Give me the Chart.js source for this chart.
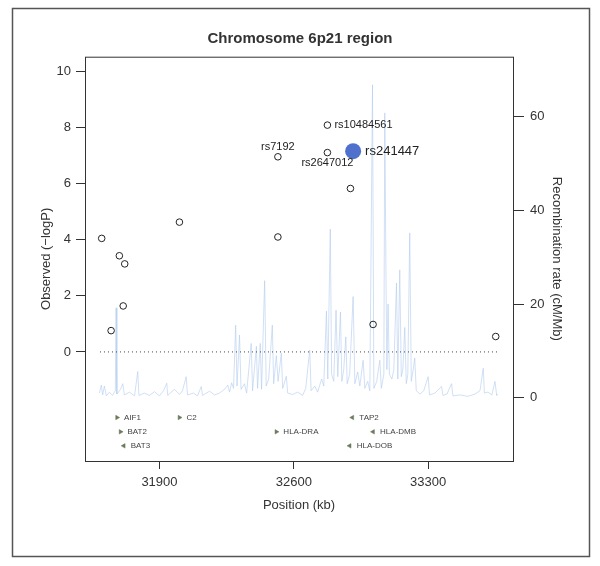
<!DOCTYPE html>
<html>
<head>
<meta charset="utf-8">
<script src="https://cdn.jsdelivr.net/npm/chart.js@4"></script>
<style>
  body { margin: 0; background: #fff; }
  #wrap { width: 600px; height: 566px; }
</style>
</head>
<body>
<div id="wrap"><canvas id="myChart" width="600" height="566"></canvas></div>
<script>
	// SNP 위치(kb) 와 -logP
	const snpPos  = [31599, 31648, 31691, 31711, 31719, 32004, 32517, 32517, 32775, 32775, 32895, 33013, 33652];
	const snpLogP = [4.05, 0.76, 3.43, 1.64, 3.14, 4.63, 6.96, 4.10, 8.09, 7.11, 5.83, 0.98, 0.55];
	const snpName = ['', '', '', '', '', '', 'rs7192', '', 'rs10484561', 'rs2647012', '', '', ''];

	// 대표 SNP
	const leadPos  = [32909];
	const leadLogP = [7.16];
	const leadName = ['rs241447'];

	// 재조합률 (cM/Mb)
	const recPos = [31587, 31597, 31604, 31613, 31623, 31639, 31655, 31670, 31674, 31678,
		31697, 31709, 31717, 31743, 31770, 31787, 31793, 31822, 31848, 31874,
		31900, 31921, 31938, 31943, 31978, 32004, 32020, 32039, 32046, 32077,
		32098, 32118, 32124, 32161, 32187, 32213, 32239, 32256, 32265, 32276,
		32286, 32297, 32304, 32317, 32325, 32343, 32354, 32378, 32385, 32405,
		32411, 32425, 32432, 32448, 32456, 32469, 32488, 32495, 32509, 32518,
		32535, 32542, 32561, 32568, 32594, 32620, 32646, 32662, 32683, 32690,
		32709, 32724, 32745, 32756, 32770, 32777, 32790, 32797, 32808, 32820,
		32829, 32843, 32850, 32860, 32871, 32878, 32891, 32909, 32918, 32933,
		32944, 32961, 32970, 32985, 32996, 33010, 33017, 33032, 33048, 33056,
		33069, 33074, 33080, 33085, 33091, 33098, 33111, 33121, 33135, 33142,
		33152, 33160, 33168, 33178, 33186, 33194, 33204, 33212, 33222, 33230,
		33238, 33257, 33277, 33300, 33307, 33335, 33370, 33377, 33398, 33422,
		33429, 33465, 33507, 33544, 33570, 33587, 33593, 33611, 33632, 33648,
		33656, 33658];
	const recRate = [1.0, 2.7, 0.6, 2.5, 0.4, 1.2, 0.5, 1.5, 19.2, 0.8,
		1.8, 3.0, 0.6, 1.2, 0.4, 5.6, 0.5, 1.0, 0.5, 1.3,
		0.4, 1.5, 3.1, 0.5, 1.8, 0.7, 1.5, 4.5, 0.6, 1.0,
		0.4, 2.4, 0.5, 1.4, 0.6, 1.0, 1.8, 2.7, 1.2, 3.2,
		2.0, 15.5, 2.5, 13.4, 1.8, 3.0, 1.0, 11.6, 1.5, 11.0,
		2.0, 11.6, 1.8, 25.0, 2.5, 4.0, 15.5, 3.0, 9.0, 3.5,
		9.5, 2.0, 4.6, 1.0, 0.7, 1.2, 0.5, 2.0, 10.2, 1.5,
		2.5, 1.2, 4.0, 2.5, 18.5, 4.0, 36.0, 5.0, 3.5, 18.7,
		4.5, 18.3, 3.5, 6.0, 13.0, 3.0, 5.0, 21.6, 3.0, 5.5,
		2.5, 8.0, 2.0, 3.5, 1.5, 66.8, 2.0, 3.5, 8.0, 2.0,
		5.0, 60.8, 27.0, 6.0, 20.0, 5.0, 4.0, 6.0, 24.5, 4.0,
		27.3, 4.5, 6.0, 15.0, 3.0, 5.0, 35.2, 3.5, 6.0, 8.5,
		1.5, 0.8, 1.5, 4.5, 0.6, 1.0, 2.4, 0.5, 0.8, 3.0,
		0.4, 0.6, 0.3, 0.8, 1.5, 6.3, 1.0, 1.2, 0.6, 3.5,
		0.8, 0.5];

	// 유전자 표시
	const geneName = ['AIF1', 'C2', 'TAP2', 'BAT2', 'HLA-DRA', 'HLA-DMB', 'BAT3', 'HLA-DOB'];
	const genePos  = [31679, 32004, 32905, 31697, 32509, 33013, 31714, 32891];
	const geneRow  = [-2.34, -2.34, -2.34, -2.85, -2.85, -2.85, -3.35, -3.35];
	const geneDir  = [1, 1, -1, 1, 1, -1, -1, -1];

	// 눈금
	const xTicks  = [31900, 32600, 33300];
	const yTicks  = [0, 2, 4, 6, 8, 10];
	const y2Ticks = [0, 20, 40, 60];
	const cutLine = [31590, 33660];

	const FONT = '"Liberation Sans", Arial, sans-serif';
	const INK = '#333';

	const snpData  = snpPos.map((p, i) => ({ x: p, y: snpLogP[i] }));
	const leadData = leadPos.map((p, i) => ({ x: p, y: leadLogP[i] }));
	const recData  = recPos.map((p, i) => ({ x: p, y: recRate[i] }));
	const geneData = genePos.map((p, i) => ({ x: p, y: geneRow[i] }));
	const cutData  = cutLine.map(p => ({ x: p, y: 0 }));

	const setTicks = (vals) => (scale) => { scale.ticks = vals.map(v => ({ value: v })); };
	const plain = (v) => String(v);

	// 라벨, 테두리 그리기
	const decoPlugin = {
		id: 'deco',
		afterDatasetsDraw(chart) {
			const { ctx, chartArea: a, scales: { x, y } } = chart;
			ctx.save();
			ctx.strokeStyle = '#333';
			ctx.lineWidth = 1;
			ctx.strokeRect(a.left + 0.5, a.top + 0.5, a.right - a.left, a.bottom - a.top);

			ctx.fillStyle = '#222';
			ctx.font = '11px ' + FONT;
			snpName.forEach((n, i) => {
				if (!n) return;
				const px = x.getPixelForValue(snpPos[i]);
				const py = y.getPixelForValue(snpLogP[i]);
				ctx.textBaseline = 'middle';
				if (n === 'rs7192') { ctx.textAlign = 'center'; ctx.fillText(n, px, py - 10); }
				else if (n === 'rs2647012') { ctx.textAlign = 'center'; ctx.fillText(n, px, py + 10); }
				else { ctx.textAlign = 'left'; ctx.fillText(n, px + 7, py); }
			});
			ctx.font = '13px ' + FONT;
			ctx.textAlign = 'left';
			leadName.forEach((n, i) => {
				ctx.fillText(n, x.getPixelForValue(leadPos[i]) + 12, y.getPixelForValue(leadLogP[i]));
			});

			ctx.font = '8px ' + FONT;
			ctx.fillStyle = '#444';
			geneName.forEach((n, i) => {
				ctx.fillText(n, x.getPixelForValue(genePos[i]) + 7, y.getPixelForValue(geneRow[i]));
			});
			ctx.restore();
		},
		afterDraw(chart) {
			const ctx = chart.ctx;
			ctx.save();
			ctx.strokeStyle = '#555';
			ctx.lineWidth = 1.5;
			ctx.strokeRect(12.5, 8.5, 577, 548);
			ctx.restore();
		}
	};

	const ctx = document.querySelector('#myChart');
	const chrChart = new Chart(ctx, {
		type: 'scatter',
		data: {
			datasets: [
				{
					label: 'lead',
					data: leadData,
					pointRadius: 8,
					pointBackgroundColor: '#4f70cc',
					pointBorderColor: '#4f70cc',
					borderWidth: 0
				},
				{
					label: 'SNP',
					data: snpData,
					pointRadius: 3.3,
					pointBackgroundColor: 'rgba(255,255,255,0)',
					pointBorderColor: '#222',
					pointBorderWidth: 1
				},
				{
					label: 'genes',
					data: geneData,
					pointStyle: 'triangle',
					pointRadius: 2.6,
					rotation: (c) => geneDir[c.dataIndex] > 0 ? 90 : -90,
					pointBackgroundColor: '#6b7a5b',
					pointBorderColor: '#6b7a5b',
					pointBorderWidth: 0.5
				},
				{
					label: 'cut',
					type: 'line',
					data: cutData,
					borderColor: '#444',
					borderWidth: 1,
					borderDash: [1, 3],
					pointRadius: 0
				},
				{
					label: 'recomb',
					type: 'line',
					yAxisID: 'y2',
					data: recData,
					borderColor: 'rgba(178,204,238,0.6)',
					borderWidth: 1,
					pointRadius: 0,
					tension: 0
				}
			]
		},
		options: {
			responsive: false,
			animation: false,
			layout: { padding: 0 },
			plugins: {
				legend: { display: false },
				tooltip: { enabled: false },
				title: {
					display: true,
					text: 'Chromosome 6p21 region',
					color: INK,
					font: { family: FONT, size: 15, weight: 'bold' },
					padding: { top: 30, bottom: 8.7 }
				}
			},
			scales: {
				x: {
					type: 'linear',
					min: 31512, max: 33742,
					afterBuildTicks: setTicks(xTicks),
					afterFit: (s) => { s.height = 105; },
					border: { display: false },
					grid: { drawOnChartArea: false, tickLength: 8, color: INK },
					ticks: { color: INK, font: { family: FONT, size: 13 }, padding: 6, maxRotation: 0, callback: plain },
					title: { display: true, text: 'Position (kb)', color: INK, font: { family: FONT, size: 13 }, padding: { bottom: 53 } }
				},
				y: {
					position: 'left',
					min: -3.89, max: 10.53,
					afterBuildTicks: setTicks(yTicks),
					afterFit: (s) => { s.width = 85; },
					border: { display: false },
					grid: { drawOnChartArea: false, tickLength: 9, color: INK },
					ticks: { color: INK, font: { family: FONT, size: 13 }, padding: 5, callback: plain },
					title: { display: true, text: 'Observed (\u2212logP)', color: INK, font: { family: FONT, size: 13 }, padding: { top: 39 } }
				},
				y2: {
					position: 'right',
					min: -13.5, max: 72.8,
					afterBuildTicks: setTicks(y2Ticks),
					afterFit: (s) => { s.width = 87; },
					border: { display: false },
					grid: { drawOnChartArea: false, tickLength: 11, color: INK },
					ticks: { color: INK, font: { family: FONT, size: 13 }, padding: 6, callback: plain },
					title: { display: true, text: 'Recombination rate (cM/Mb)', color: INK, font: { family: FONT, size: 13 }, padding: { top: 36 } }
				}
			}
		},
		plugins: [decoPlugin]
	});
</script>
</body>
</html>
